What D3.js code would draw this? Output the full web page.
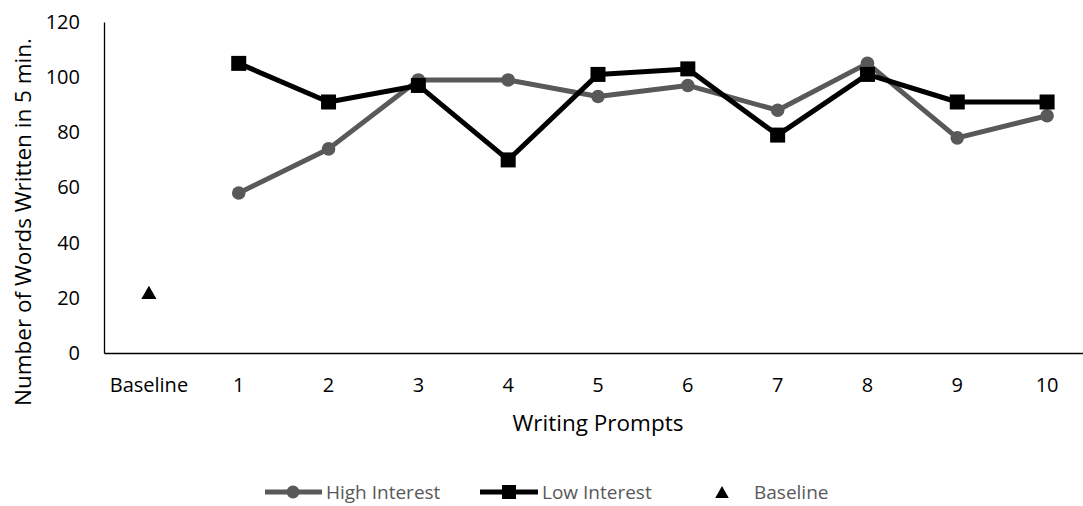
<!DOCTYPE html>
<html>
<head>
<meta charset="utf-8">
<script src="https://cdn.jsdelivr.net/npm/d3@7"></script>
<style>
  html, body { margin: 0; padding: 0; background: #fff; }
  svg { display: block; font-family: "Open Sans", sans-serif; }
</style>
</head>
<body>
<svg id="chart" width="1083" height="506"></svg>
<script>
// Categories along the x axis
const categories = ["Baseline", "1", "2", "3", "4", "5", "6", "7", "8", "9", "10"];
const prompts = ["1", "2", "3", "4", "5", "6", "7", "8", "9", "10"];
// Words written per prompt
const highInterest = [58, 74, 99, 99, 93, 97, 88, 105, 78, 86];
const lowInterest = [105, 91, 97, 70, 101, 103, 79, 101, 91, 91];
const baselineValue = [22];
const yTicks = [0, 20, 40, 60, 80, 100, 120];

const FONT = "'Open Sans', sans-serif";
const svg = d3.select("#chart");
const margin = { left: 104, right: 1092, top: 22, bottom: 353 };

const x = d3.scaleBand().domain(categories).range([margin.left, margin.right]);
const cx = c => x(c) + x.bandwidth() / 2;
const y = d3.scaleLinear().domain([0, 120]).range([margin.bottom, margin.top]);

// Y axis
const yAxis = svg.append("g")
  .attr("transform", `translate(${margin.left},0)`)
  .call(d3.axisLeft(y).tickValues(yTicks).tickSize(0).tickPadding(24));
yAxis.select(".domain").attr("stroke", "#000").attr("stroke-width", 1.3);
yAxis.selectAll("text").attr("font-size", 20).attr("fill", "#000").attr("font-family", FONT);

// X axis
const xAxis = svg.append("g")
  .attr("transform", `translate(0,${margin.bottom})`)
  .call(d3.axisBottom(x).tickSize(0).tickPadding(25));
xAxis.select(".domain").attr("stroke", "#000").attr("stroke-width", 1.3);
xAxis.selectAll("text").attr("font-size", 20).attr("fill", "#000").attr("font-family", FONT);

// Axis titles
svg.append("text")
  .attr("transform", `translate(31,222) rotate(-90)`)
  .attr("text-anchor", "middle")
  .attr("font-size", 22.5)
  .attr("fill", "#000")
  .text("Number of Words Written in 5 min.");

svg.append("text")
  .attr("x", (margin.left + margin.right) / 2)
  .attr("y", 431)
  .attr("text-anchor", "middle")
  .attr("font-size", 22.5)
  .attr("fill", "#000")
  .text("Writing Prompts");

const line = d3.line().x((d, i) => cx(prompts[i])).y(d => y(d));

// High interest series
svg.append("path")
  .datum(highInterest)
  .attr("d", line)
  .attr("fill", "none")
  .attr("stroke", "#595959")
  .attr("stroke-width", 5)
  .attr("stroke-linejoin", "round");
svg.selectAll(".hi").data(highInterest).enter().append("circle")
  .attr("cx", (d, i) => cx(prompts[i]))
  .attr("cy", d => y(d))
  .attr("r", 6.8)
  .attr("fill", "#595959");

// Low interest series
svg.append("path")
  .datum(lowInterest)
  .attr("d", line)
  .attr("fill", "none")
  .attr("stroke", "#000")
  .attr("stroke-width", 5)
  .attr("stroke-linejoin", "round");
svg.selectAll(".lo").data(lowInterest).enter().append("rect")
  .attr("x", (d, i) => cx(prompts[i]) - 7.5)
  .attr("y", d => y(d) - 7.5)
  .attr("width", 15)
  .attr("height", 15)
  .attr("fill", "#000");

// Baseline marker (triangle centred on its bounding box rather than its centroid)
const triSize = 100;
const triH = Math.sqrt(triSize * Math.sqrt(3));
const tri = d3.symbol().type(d3.symbolTriangle).size(triSize);
svg.selectAll(".base").data(baselineValue).enter().append("path")
  .attr("d", tri)
  .attr("transform", d => `translate(${cx("Baseline")},${y(d) + triH / 6})`)
  .attr("fill", "#000");

// Legend
const ly = 492;
const ty = 499;
const leg = svg.append("g").attr("font-size", 19).attr("fill", "#595959");
leg.append("line").attr("x1", 265).attr("x2", 322).attr("y1", ly).attr("y2", ly)
  .attr("stroke", "#595959").attr("stroke-width", 5);
leg.append("circle").attr("cx", 293).attr("cy", ly).attr("r", 6.5).attr("fill", "#595959");
leg.append("text").attr("x", 326).attr("y", ty).text("High Interest");

leg.append("line").attr("x1", 480).attr("x2", 538).attr("y1", ly).attr("y2", ly)
  .attr("stroke", "#000").attr("stroke-width", 5);
leg.append("rect").attr("x", 502).attr("y", ly - 7).attr("width", 14).attr("height", 14).attr("fill", "#000");
leg.append("text").attr("x", 542).attr("y", ty).text("Low Interest");

leg.append("path").attr("d", d3.symbol().type(d3.symbolTriangle).size(80))
  .attr("transform", `translate(722,${ly + Math.sqrt(80 * Math.sqrt(3)) / 6})`).attr("fill", "#000");
leg.append("text").attr("x", 754).attr("y", ty).text("Baseline");
</script>
</body>
</html>
